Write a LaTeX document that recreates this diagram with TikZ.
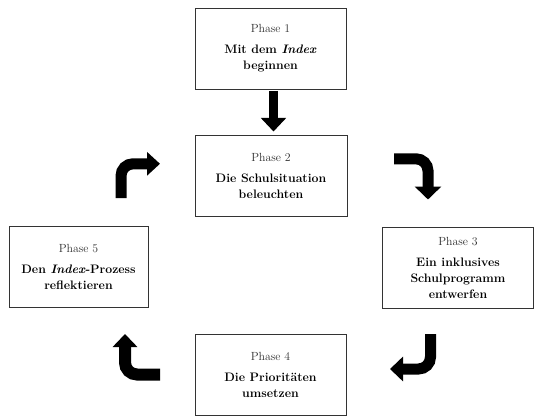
\documentclass[tikz,border=0pt]{standalone}
\usetikzlibrary{arrows.meta}
\definecolor{phasegray}{HTML}{2E2E2E}
\definecolor{boxline}{HTML}{333333}
\begin{document}
\begin{tikzpicture}[x=1pt,y=-1pt,
  phasebox/.style={draw=boxline, line width=0.9pt, rectangle, inner sep=0pt,
    align=center, font=\fontsize{12.3}{16}\selectfont},
  fat/.style={line width=#1, rounded corners=12pt, line cap=butt},
]
\useasboundingbox (0,0) rectangle (535,417);
\newcommand{\ph}[1]{{\color{phasegray}\fontsize{11.8}{14}\selectfont Phase #1}\\[5pt]}
\node[phasebox, minimum width=151pt, minimum height=81pt] (p1) at (270.5,48.5)
  {\ph{1}\textbf{Mit dem \textit{Index}}\\\textbf{beginnen}};
\node[phasebox, minimum width=152pt, minimum height=81pt] (p2) at (271,175.5)
  {\ph{2}\textbf{Die Schulsituation}\\\textbf{beleuchten}};
\node[phasebox, minimum width=151pt, minimum height=81pt] (p3) at (458,267.5)
  {\ph{3}\textbf{Ein inklusives}\\\textbf{Schulprogramm}\\\textbf{entwerfen}};
\node[phasebox, minimum width=151pt, minimum height=81pt] (p4) at (270.5,374.5)
  {\ph{4}\textbf{Die Prioritäten}\\\textbf{umsetzen}};
\node[phasebox, minimum width=139pt, minimum height=81pt] (p5) at (78.5,266.5)
  {\ph{5}\textbf{Den \textit{Index}-Prozess}\\\textbf{reflektieren}};

% arrows
\coordinate (a12s) at (273.5,91);
\coordinate (a12e) at (273.5,131.5);
\draw[fat=9pt, -{Triangle[length=13.5pt,width=24.5pt]}] (a12s) -- (a12e);

\coordinate (a23s) at (394,158.8);
\coordinate (a23e) at (428,199.5);
\draw[fat=11pt, -{Triangle[length=13pt,width=26pt]}] (a23s) -| (a23e);

\coordinate (a34s) at (430.5,334);
\coordinate (a34e) at (390,369);
\draw[fat=11pt, -{Triangle[length=13pt,width=24pt]}] (a34s) |- (a34e);

\coordinate (a45s) at (160,374.5);
\coordinate (a45e) at (125,334);
\draw[fat=12pt, -{Triangle[length=13pt,width=24pt]}] (a45s) -| (a45e);

\coordinate (a52s) at (121,198);
\coordinate (a52e) at (160,163.8);
\draw[fat=11pt, -{Triangle[length=13pt,width=23pt]}] (a52s) |- (a52e);
\end{tikzpicture}
\end{document}
